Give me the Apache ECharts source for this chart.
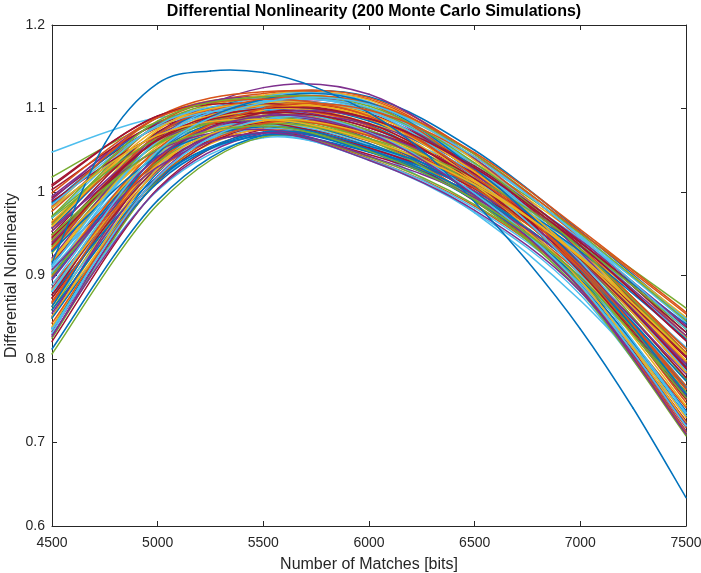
<!DOCTYPE html>
<html>
<head>
<meta charset="utf-8">
<script src="https://cdn.jsdelivr.net/npm/echarts@6/dist/echarts.min.js"></script>
<style>html,body{margin:0;padding:0;background:#fff;}#c{width:701px;height:573px;}</style>
</head>
<body>
<div id="c"></div>
<script>
// x positions (Number of Matches [bits]) at which each simulated curve is sampled
var xs = [4500, 5000, 5500, 6000, 6500, 7000, 7500];
// values of each curve at each x position (curve k = k-th entry of each array)
var y4500 = [0.837,0.941,0.981,0.885,0.859,1.048,0.993,0.913,0.947,0.863,0.939,1.018,0.867,0.821,0.987,0.889,0.965,0.851,0.927,0.909,1.009,0.903,0.953,0.851,0.921,0.969,0.889,0.833,0.957,0.873,0.931,0.991,0.825,0.837,0.917,0.897,0.963,0.849,0.995,0.881,0.913,0.949,0.849,0.977,0.905,0.930,0.961,0.881,1.003,0.812,0.867,0.933,0.829,0.935,0.969,0.873,0.981,0.899,0.917,0.953,0.806,
  0.831,0.989,0.877,0.983,0.919,0.855,0.943,0.903,1.007,0.859,0.931,0.839,0.957,0.901,0.985,0.877,0.929,0.843,0.959,0.827,0.971,0.911,0.945,0.863,0.999,0.883,0.907,0.971,0.835,0.937,0.869,0.981,0.895,0.949,0.881];
var y5000 = [1.023,1.052,1.089,1.038,1.036,1.089,1.077,1.066,1.046,1.025,1.068,1.084,1.014,1.004,1.083,1.027,1.070,1.037,1.059,1.035,1.091,1.041,1.082,1.016,1.065,1.059,1.048,1.013,1.071,1.050,1.048,1.089,1.014,1.002,1.034,1.047,1.065,1.032,1.082,1.049,1.045,1.072,1.011,1.079,1.046,1.068,1.081,1.028,1.081,0.990,1.035,1.074,1.003,1.058,1.080,1.029,1.068,1.052,1.055,1.061,0.985,
  1.029,1.067,1.018,1.090,1.060,1.026,1.057,1.062,1.091,1.015,1.069,1.028,1.050,1.036,1.078,1.039,1.043,1.017,1.076,1.019,1.064,1.061,1.062,1.046,1.089,1.033,1.030,1.085,1.018,1.063,1.040,1.068,1.042,1.051,1.049];
var y5500 = [1.092,1.084,1.115,1.091,1.099,1.088,1.094,1.115,1.074,1.083,1.106,1.104,1.067,1.075,1.104,1.075,1.097,1.104,1.099,1.076,1.111,1.087,1.118,1.077,1.110,1.081,1.102,1.081,1.102,1.111,1.083,1.115,1.086,1.065,1.071,1.097,1.091,1.099,1.099,1.107,1.087,1.107,1.071,1.103,1.092,1.125,1.113,1.079,1.095,1.068,1.095,1.116,1.070,1.095,1.108,1.084,1.087,1.103,1.099,1.091,1.066,
  1.103,1.083,1.068,1.120,1.104,1.088,1.090,1.114,1.106,1.072,1.111,1.098,1.075,1.081,1.099,1.095,1.078,1.082,1.107,1.091,1.087,1.109,1.095,1.111,1.111,1.085,1.071,1.114,1.087,1.100,1.100,1.087,1.091,1.079,1.107];
var y6000 = [1.080,1.061,1.105,1.074,1.093,1.050,1.064,1.114,1.040,1.070,1.087,1.088,1.038,1.055,1.085,1.050,1.082,1.099,1.087,1.054,1.094,1.064,1.113,1.063,1.100,1.051,1.098,1.068,1.080,1.111,1.058,1.100,1.070,1.039,1.045,1.088,1.063,1.096,1.077,1.100,1.073,1.090,1.049,1.087,1.072,1.117,1.106,1.056,1.068,1.048,1.079,1.110,1.052,1.074,1.096,1.072,1.058,1.093,1.082,1.072,1.042,
  1.101,1.053,1.048,1.106,1.088,1.081,1.062,1.108,1.088,1.051,1.107,1.090,1.043,1.062,1.071,1.082,1.055,1.067,1.093,1.088,1.064,1.097,1.077,1.107,1.091,1.069,1.038,1.103,1.071,1.088,1.098,1.062,1.070,1.049,1.105];
var y6500 = [1.004,1.007,1.042,1.008,1.024,0.975,0.997,1.050,0.983,1.015,1.007,1.034,0.976,0.989,1.021,0.994,1.031,1.022,1.026,1.006,1.029,0.997,1.045,1.014,1.025,0.996,1.039,1.010,1.006,1.040,0.999,1.025,0.996,0.981,0.998,1.031,0.992,1.034,1.016,1.027,1.025,1.017,0.991,1.026,1.001,1.040,1.045,0.992,1.007,0.990,1.001,1.038,1.001,1.008,1.034,1.022,0.999,1.024,1.011,1.020,0.985,
  1.030,1.004,1.008,1.025,1.009,1.028,0.990,1.030,1.031,0.996,1.047,1.014,0.993,1.009,0.998,1.011,1.009,1.005,1.024,1.029,1.017,1.017,1.016,1.028,1.019,1.012,0.978,1.035,0.998,1.029,1.042,1.009,0.996,0.991,1.042];
var y7000 = [0.891,0.918,0.946,0.906,0.921,0.870,0.894,0.953,0.890,0.926,0.889,0.951,0.877,0.887,0.922,0.902,0.947,0.910,0.931,0.925,0.930,0.894,0.944,0.932,0.914,0.907,0.948,0.917,0.895,0.935,0.905,0.914,0.884,0.886,0.917,0.940,0.885,0.939,0.920,0.919,0.944,0.907,0.898,0.931,0.893,0.928,0.950,0.891,0.912,0.895,0.886,0.931,0.916,0.906,0.939,0.939,0.905,0.921,0.904,0.935,0.893,
  0.923,0.920,0.935,0.908,0.894,0.942,0.881,0.917,0.940,0.907,0.955,0.903,0.908,0.923,0.888,0.904,0.929,0.908,0.921,0.936,0.936,0.901,0.920,0.913,0.912,0.921,0.881,0.932,0.888,0.936,0.952,0.923,0.884,0.898,0.946];
var y7500 = [0.722,0.796,0.836,0.760,0.784,0.735,0.738,0.848,0.742,0.808,0.714,0.861,0.712,0.726,0.792,0.764,0.850,0.756,0.812,0.814,0.804,0.738,0.828,0.826,0.766,0.774,0.844,0.788,0.732,0.808,0.766,0.766,0.710,0.732,0.802,0.832,0.718,0.824,0.790,0.776,0.848,0.754,0.754,0.812,0.730,0.790,0.846,0.736,0.778,0.760,0.712,0.798,0.794,0.760,0.824,0.838,0.766,0.784,0.752,0.828,0.760,
  0.786,0.804,0.842,0.748,0.724,0.840,0.708,0.768,0.832,0.774,0.856,0.744,0.782,0.806,0.720,0.752,0.824,0.768,0.784,0.822,0.836,0.736,0.790,0.758,0.764,0.798,0.722,0.806,0.720,0.822,0.854,0.806,0.710,0.754,0.836];
// the one strongly deviating simulation (high arc, steep drop)
var arcX = [4500, 4750, 5000, 5250, 5500, 5750, 6000, 6250, 6500, 6750, 7000, 7250, 7500];
var arcY = [0.915, 1.058, 1.130, 1.145, 1.143, 1.125, 1.095, 1.050, 0.988, 0.917, 0.836, 0.741, 0.634];
var xTicks = [4500, 5000, 5500, 6000, 6500, 7000, 7500];
var yTicks = [0.6, 0.7, 0.8, 0.9, 1.0, 1.1, 1.2];

var cols = [y4500, y5000, y5500, y6000, y6500, y7000, y7500];
var palette = ['#0072BD','#D95319','#EDB120','#7E2F8E','#77AC30','#4DBEEE','#A2142F'];
var FONT = '"Liberation Sans", Arial, Helvetica, sans-serif';
var INK = '#262626';

// one list of (x, value) points per simulation, all taken from the arrays above
var curves = [];
for (var k = 0; k < y4500.length; k++) {
  var d = [];
  for (var j = 0; j < xs.length; j++) d.push([xs[j], cols[j][k]]);
  curves.push(d);
}
curves.splice(91, 0, arcX.map(function (x, i) { return [x, arcY[i]]; }));

// each curve is drawn through its points (mapped by the axes) as a smooth Catmull-Rom spline
function renderCurve(params, api) {
  var idx = api.value(0);
  var pts = curves[idx].map(function (p) { return api.coord(p); });
  var n = pts.length, children = [];
  for (var i = 0; i < n - 1; i++) {
    var p0 = pts[Math.max(i - 1, 0)], p1 = pts[i], p2 = pts[i + 1], p3 = pts[Math.min(i + 2, n - 1)];
    children.push({
      type: 'bezierCurve',
      shape: {
        x1: p1[0], y1: p1[1], x2: p2[0], y2: p2[1],
        cpx1: p1[0] + (p2[0] - p0[0]) / 6, cpy1: p1[1] + (p2[1] - p0[1]) / 6,
        cpx2: p2[0] - (p3[0] - p1[0]) / 6, cpy2: p2[1] - (p3[1] - p1[1]) / 6
      },
      style: {stroke: palette[idx % palette.length], fill: null, lineWidth: 1.5, lineCap: 'round'},
      silent: true
    });
  }
  return {type: 'group', children: children, silent: true};
}

function plain(v) { return String(Math.round(v * 1000) / 1000); }

function axisCommon(extra) {
  return Object.assign({
    type: 'value',
    axisLine: {show: true, onZero: false, lineStyle: {color: INK, width: 1}},
    axisTick: {show: true, inside: true, length: 5, lineStyle: {color: INK}},
    splitLine: {show: false},
    axisLabel: {color: INK, fontSize: 14, fontFamily: FONT, formatter: plain}
  }, extra);
}

var chart = echarts.init(document.getElementById('c'), null, {renderer: 'canvas'});
chart.setOption({
  animation: false,
  backgroundColor: '#fff',
  title: {
    text: 'Differential Nonlinearity (200 Monte Carlo Simulations)',
    left: 369, top: -1, textAlign: 'center',
    textStyle: {fontFamily: FONT, fontSize: 16, fontWeight: 'bold', color: '#000'}
  },
  grid: {left: 52, right: 15, top: 25, bottom: 47, containLabel: false, outerBoundsMode: 'none'},
  xAxis: [
    axisCommon({min: xTicks[0], max: xTicks[xTicks.length - 1], interval: xTicks[1] - xTicks[0], position: 'bottom',
      axisLabel: {color: INK, fontSize: 14, fontFamily: FONT, margin: 10, formatter: plain},
      name: 'Number of Matches [bits]', nameLocation: 'middle', nameGap: 31,
      nameTextStyle: {color: INK, fontSize: 16, fontFamily: FONT}}),
    axisCommon({min: xTicks[0], max: xTicks[xTicks.length - 1], interval: xTicks[1] - xTicks[0], position: 'top',
      axisLabel: {show: false}})
  ],
  yAxis: [
    axisCommon({min: yTicks[0], max: yTicks[yTicks.length - 1], interval: 0.1, position: 'left',
      axisLabel: {color: INK, fontSize: 14, fontFamily: FONT, margin: 7, formatter: plain},
      name: 'Differential Nonlinearity', nameLocation: 'middle', nameGap: 32, nameMoveOverlap: false,
      nameTextStyle: {color: INK, fontSize: 16, fontFamily: FONT}}),
    axisCommon({min: yTicks[0], max: yTicks[yTicks.length - 1], interval: 0.1, position: 'right',
      axisLabel: {show: false}})
  ],
  series: [{
    type: 'custom',
    coordinateSystem: 'cartesian2d',
    xAxisIndex: 0, yAxisIndex: 0,
    silent: true,
    animation: false,
    data: curves.map(function (c, i) { return [i]; }),
    encode: {x: -1, y: -1},
    renderItem: renderCurve
  }]
});
</script>
</body>
</html>
